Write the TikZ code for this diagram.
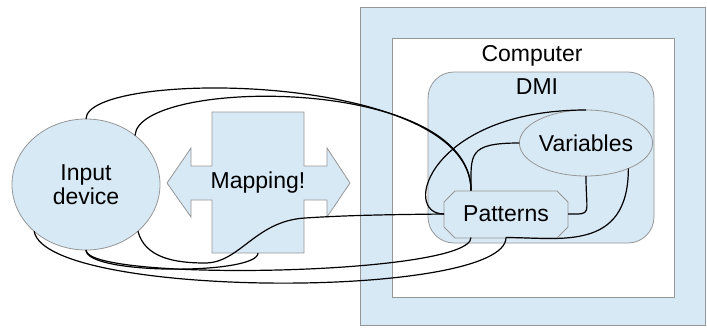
\documentclass[tikz,border=0pt]{standalone}
\usepackage{fontspec}
\setmainfont{Liberation Sans}
\usetikzlibrary{shapes.geometric}
\definecolor{paleblue}{RGB}{216,233,246}
\definecolor{edgegray}{RGB}{150,150,150}
\begin{document}
\begin{tikzpicture}[x=1pt,y=-1pt,
  every node/.style={inner sep=0pt, outer sep=0pt},
  shapeline/.style={draw=edgegray, line width=0.8pt},
  bluebox/.style={shapeline, fill=paleblue},
  conn/.style={draw=black, line width=1.2pt},
  lbl/.style={font=\fontsize{23}{23.5}\selectfont, text=black}]
\useasboundingbox (0,0) rectangle (707,327);

% computer enclosure
\node[bluebox, rectangle, minimum width=345pt, minimum height=318pt] (outer) at (532.5,166) {};
\node[shapeline, fill=white, rectangle, minimum width=282pt, minimum height=259pt] (comp) at (533,167.5) {};
\node[lbl, anchor=base] (comptext) at (532,61) {Computer};

% DMI block
\node[bluebox, rectangle, rounded corners=26pt, minimum width=226pt, minimum height=171pt] (dmi) at (541,157.5) {};
\node[lbl, anchor=base] (dmitext) at (537,94) {DMI};

% variables
\node[bluebox, ellipse, minimum width=107pt, minimum height=66pt, lbl] (var) at (586,143) {Variables};

% patterns (chamfered box)
\draw[bluebox] (455,191) -- (557,191) -- (568,202) -- (568,227) -- (557,238)
  -- (455,238) -- (444,227) -- (444,202) -- cycle;
\node[lbl, rectangle, minimum width=124pt, minimum height=47pt] (pat) at (506,214) {Patterns};

% input device
\node[bluebox, ellipse, minimum width=148pt, minimum height=131pt, lbl, align=center] (inp) at (86,184.5) {Input\\device};

% mapping: double arrow crossed with a box
\draw[bluebox] (167,183) -- (191,148) -- (191,166) -- (212,166) -- (212,112)
  -- (304,112) -- (304,166) -- (327,166) -- (327,148) -- (350,183)
  -- (327,217) -- (327,200) -- (304,200) -- (304,253) -- (212,253)
  -- (212,200) -- (191,200) -- (191,217) -- cycle;
\node[lbl, rectangle, minimum width=92pt, minimum height=141pt] (map) at (258,182.5) {Mapping!};

% connectors
\draw[conn] (inp.north) .. controls +(0,-50) and +(0,-120) .. ([xshift=-35pt]pat.north);
\draw[conn] (inp.45) .. controls +(3,-58) and +(0,-116) .. ([xshift=-35pt]pat.north);
\draw[conn] (pat.west) .. controls +(-44,0) and +(-156,0) .. (var.north);
\draw[conn] ([xshift=-35pt]pat.north) .. controls +(0,-36) and +(-52,0) .. (var.west);
\draw[conn] (var.south) .. controls +(0,40) and +(25,0) .. (pat.east);
\draw[conn] (var.-31) .. controls +(0,84) and +(53,0) .. (pat.south);
\draw[conn] (pat.south) .. controls +(0,62) and +(12,68) .. (inp.222);
\draw[conn] ([xshift=-35pt]pat.south) .. controls +(0,38) and +(0,32) .. (inp.south);
\draw[conn] (inp.south) .. controls +(0,25) and +(0,22) .. (map.south);
\draw[conn] (inp.318) .. controls (145,258) and (175,263) .. (205,263)
  .. controls (240,263) and (255,221) .. (305,218)
  .. controls (350,215) and (400,214.5) .. (pat.west);
\end{tikzpicture}
\end{document}
